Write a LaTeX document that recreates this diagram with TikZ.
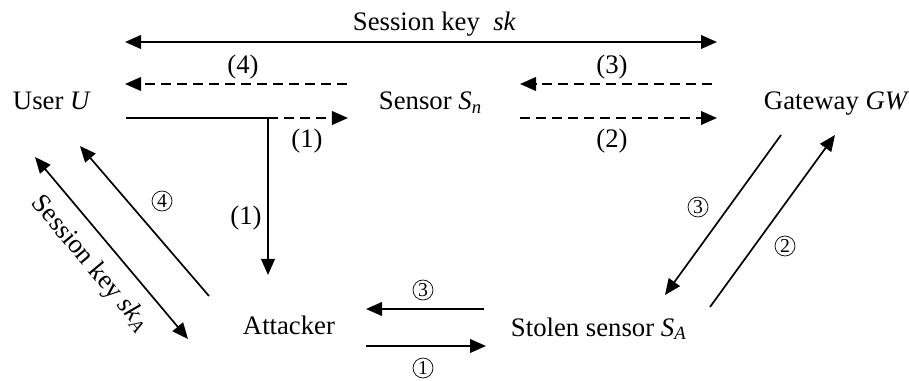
\documentclass[tikz,border=0pt]{standalone}
\usepackage{amsmath}
\usepackage{fontspec}
\setmainfont{Liberation Serif}
\usetikzlibrary{arrows.meta}
\usetikzlibrary{positioning}

\begin{document}
\begin{tikzpicture}[x=0.025cm,y=-0.025cm,>={Triangle[length=0.4cm,width=0.34cm]},
	line width=1.4pt,font=\fontsize{19}{22}\selectfont,
	party/.style={inner sep=0pt,anchor=base west},
	dmsg/.style={->,dash pattern=on 0.25cm off 0.15cm},
	lbl/.style={inner sep=0pt},
	clbl/.style={circle,draw,line width=0.5pt,inner sep=0.6pt,minimum size=0.5cm,
		font=\fontsize{14}{16}\selectfont}]
	
	\useasboundingbox (0,0) rectangle (909,381);
	
	\node[party] (user) at (12,110) {User \textit{U}};
	\node[party] (sensor) at (378,110) {Sensor \textit{S}$_{\textit{n}}$};
	\node[party] (gw) at (763,110) {Gateway \textit{GW}};
	\node[party] (att) at (242,334) {Attacker};
	\node[party] (stolen) at (510,336) {Stolen sensor \textit{S}$_{\textit{A}}$};
	\node[party] (sk) at (352,31) {Session key \ \textit{sk}};
	
	% arrow ends
	\coordinate (skL) at (125,42);
	\coordinate (skR) at (717,42);
	\coordinate (s4a) at (347,84);
	\coordinate (u4b) at (125,84);
	\coordinate (u1a) at (126,118);
	\coordinate (bend) at (268,118);
	\coordinate (s1b) at (348,118);
	\coordinate (att1b) at (268,275);
	\coordinate (g3a) at (712,84);
	\coordinate (s3b) at (520,84);
	\coordinate (s2a) at (520,118);
	\coordinate (g2b) at (717,118);
	\coordinate (att4a) at (209,296);
	\coordinate (u4tip) at (80,146);
	\coordinate (ukey) at (35,157);
	\coordinate (akey) at (188,339);
	\coordinate (st3a) at (484,309);
	\coordinate (att3b) at (366,309);
	\coordinate (att1a) at (366,346);
	\coordinate (st1b) at (486,346);
	\coordinate (gw3a) at (781,135);
	\coordinate (st3tip) at (665,295);
	\coordinate (st2a) at (710,307);
	\coordinate (gw2tip) at (835,135);
	
	% between user, sensor and gateway
	\draw[<->] (skL) -- (skR);
	\draw[dmsg] (s4a) -- (u4b);
	\draw[dmsg] (bend) -- (s1b);
	\draw[->,line join=miter] (u1a) -- (bend) -- (att1b);
	\draw[dmsg] (g3a) -- (s3b);
	\draw[dmsg] (s2a) -- (g2b);
	\node[lbl] (l4) at (243,67) {(4)};
	\node[lbl] (l1) at (307,141) {(1)};
	\node[lbl] (l1v) at (246,218) {(1)};
	\node[lbl] (l3) at (612,67) {(3)};
	\node[lbl] (l2) at (612,141) {(2)};
	
	% the attack
	\draw[->,line width=1.2pt] (att4a) -- (u4tip);
	\draw[<->,line width=1.2pt] (ukey) -- (akey);
	\draw[->] (st3a) -- (att3b);
	\draw[->] (att1a) -- (st1b);
	\draw[->,line width=1.2pt] (gw3a) -- (st3tip);
	\draw[->,line width=1.2pt] (st2a) -- (gw2tip);
	\node[rotate=-50,lbl] (skA) at (90,264) {Session key \textit{sk}$_{\textit{A}}$};
	\node[clbl] (c4) at (162,201) {4};
	\node[clbl] (c3l) at (423,290) {3};
	\node[clbl] (c1) at (423,368) {1};
	\node[clbl] (c3r) at (698,207) {3};
	\node[clbl] (c2) at (785,246) {2};
\end{tikzpicture}
\end{document}
